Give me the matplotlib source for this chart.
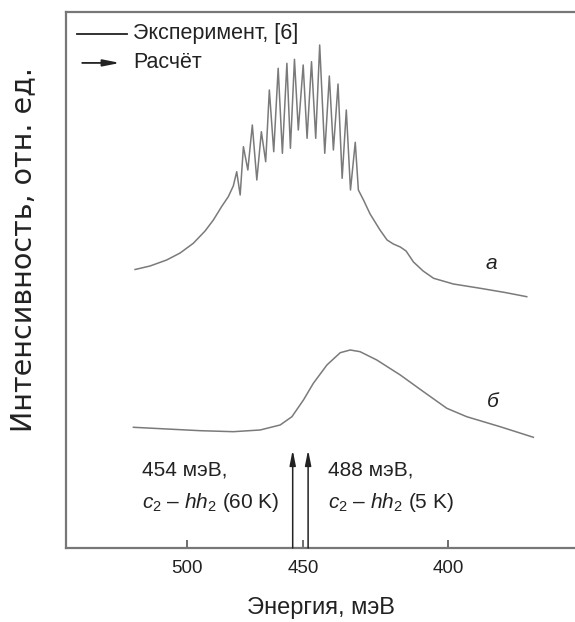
import numpy as np
import matplotlib
import matplotlib.pyplot as plt

matplotlib.use('Agg')

plt.rcParams['font.family'] = ['Liberation Sans', 'DejaVu Sans']
plt.rcParams['mathtext.fontset'] = 'custom'
plt.rcParams['mathtext.rm'] = 'Liberation Sans'
plt.rcParams['mathtext.it'] = 'Liberation Sans:italic'

# --- кривая а: эксперимент [6], энергия (мэВ) и интенсивность (отн. ед.)
energia_a = [526.0, 518.2, 509.8, 503.2, 496.9, 491.4, 487.6, 483.7, 480.9, 478.7,
             477.2, 475.7, 474.3, 472.4, 470.5, 468.6, 466.7, 464.9, 463.4, 461.6,
             459.8, 458.1, 456.3, 454.9, 453.3, 451.8, 449.9, 448.4, 446.7, 445.1,
             443.6, 441.7, 440.0, 438.5, 436.8, 435.3, 433.8, 432.3, 430.6, 429.5,
             427.7, 425.4, 422.0, 419.6, 417.5, 415.2, 413.3, 410.9, 407.8, 404.5,
             398.4, 390.4, 383.3, 377.3]
intens_a = [2.785, 2.82, 2.88, 2.95, 3.047, 3.17, 3.28, 3.42, 3.513, 3.62,
            3.763, 3.53, 4.013, 3.78, 4.23, 3.68, 4.163, 3.863, 4.58, 3.963,
            4.797, 3.947, 4.847, 3.997, 4.887, 4.18, 4.83, 4.097, 4.863, 4.097,
            5.03, 3.947, 4.72, 3.98, 4.64, 3.697, 4.38, 3.58, 4.057, 3.58,
            3.48, 3.34, 3.18, 3.08, 3.04, 3.01, 2.97, 2.86, 2.77, 2.697,
            2.64, 2.597, 2.555, 2.513]

# --- кривая б
energia_b = [526.9, 509.8, 493.7, 478.7, 467.2, 459.0, 454.3, 449.8, 446.0, 440.9,
             436.0, 432.4, 428.9, 423.1, 415.2, 407.7, 400.4, 394.4, 384.7, 375.5]
intens_b = [1.207, 1.19, 1.173, 1.163, 1.18, 1.23, 1.313, 1.48, 1.647, 1.83,
            1.953, 1.98, 1.963, 1.88, 1.73, 1.563, 1.397, 1.313, 1.213, 1.107]

# --- расчёт: положения переходов c2-hh2
energia_rasch = [454.0, 448.0]
vysota_rasch = 0.98

xticks = [500, 450, 400]
xlim_energia = (565.3, 364.6)


# ось линейна по длине волны: lambda (мкм) = 1240 / E (мэВ)
def v_lambda(e):
    return 1240.0 / np.asarray(e, dtype=float)


fig = plt.figure(figsize=(5.75, 6.22), dpi=100)
ax = fig.add_axes([0.1148, 0.119, 0.8852, 0.8617])

seryi = '#7a7a7a'
ax.plot(v_lambda(energia_a), intens_a, color=seryi, lw=1.1)
ax.plot(v_lambda(energia_b), intens_b, color=seryi, lw=1.1)

for e in v_lambda(energia_rasch):
    ax.annotate('', xy=(e, vysota_rasch), xytext=(e, 0.0),
                arrowprops=dict(arrowstyle='-|>,head_length=0.9,head_width=0.18',
                                color='#222222', lw=1.1, shrinkA=0, shrinkB=0))

ax.set_xlim(v_lambda(xlim_energia))
ax.set_ylim(0, 5.36)
ax.set_xticks(v_lambda(xticks))
ax.set_xticklabels([str(t) for t in xticks])
ax.set_yticks([])
ax.tick_params(axis='x', direction='in', length=6, width=1.2, color='#555555',
               labelsize=13.5, pad=9, labelcolor='#222222')

for s in ['top', 'left', 'bottom']:
    ax.spines[s].set_color('#777777')
    ax.spines[s].set_linewidth(1.6)
ax.spines['right'].set_visible(False)

ax.set_xlabel('Энергия, мэВ', fontsize=17, color='#222222', labelpad=14)
ax.set_ylabel('Интенсивность, отн. ед.', fontsize=20.5, color='#222222',
              family='DejaVu Sans')
ax.yaxis.set_label_coords(-0.056, 0.556)

# легенда
ax.plot([0.0216, 0.119], [0.959, 0.959], transform=ax.transAxes, color='#222222', lw=1.3)
ax.text(0.1316, 0.959, 'Эксперимент, [6]', transform=ax.transAxes, fontsize=15.5,
        va='center', color='#222222')
ax.annotate('', xy=(0.106, 0.905), xytext=(0.0318, 0.905), xycoords='axes fraction',
            arrowprops=dict(arrowstyle='-|>,head_length=1.0,head_width=0.2',
                            color='#222222', lw=1.3, shrinkA=0, shrinkB=0))
ax.text(0.1316, 0.905, 'Расчёт', transform=ax.transAxes, fontsize=15.5,
        va='center', color='#222222')

ax.text(0.836, 0.531, 'а', transform=ax.transAxes, fontsize=15, style='italic',
        ha='center', va='center', color='#222222')
ax.text(0.838, 0.274, 'б', transform=ax.transAxes, fontsize=15, style='italic',
        ha='center', va='center', color='#222222')

ax.text(0.149, 0.1455, '454 мэВ,', transform=ax.transAxes, fontsize=15,
        va='center', color='#222222')
ax.text(0.149, 0.084, r'$c_2$ – $hh_2$ (60 K)', transform=ax.transAxes, fontsize=15,
        va='center', color='#222222')
ax.text(0.515, 0.1455, '488 мэВ,', transform=ax.transAxes, fontsize=15,
        va='center', color='#222222')
ax.text(0.515, 0.084, r'$c_2$ – $hh_2$ (5 K)', transform=ax.transAxes, fontsize=15,
        va='center', color='#222222')

plt.savefig('out.png', dpi=100)
plt.close()
